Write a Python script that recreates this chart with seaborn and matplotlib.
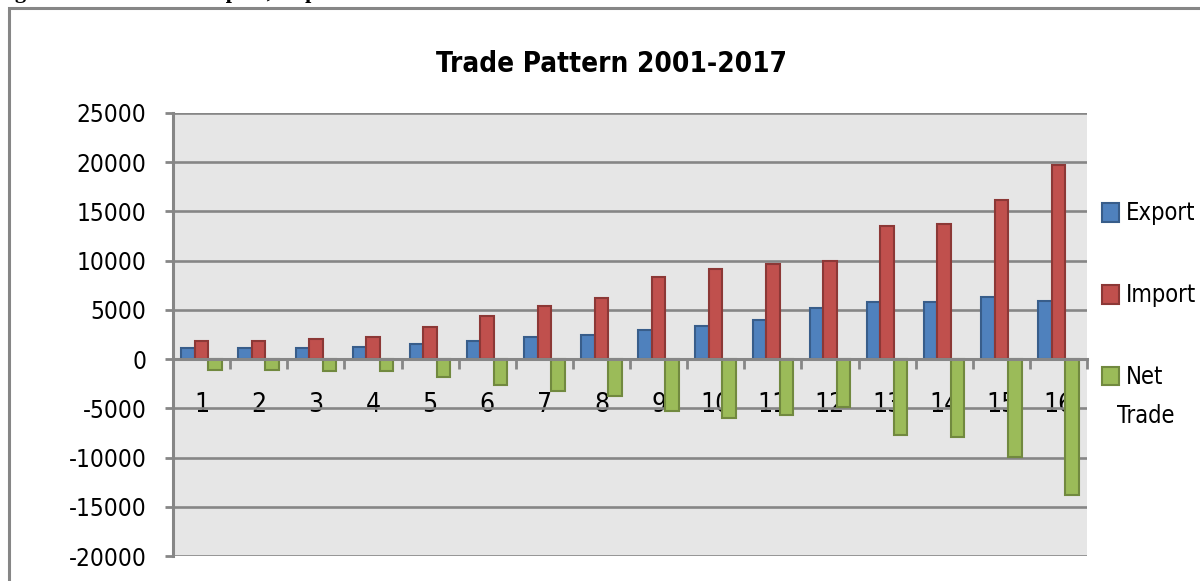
import numpy as np
import pandas as pd
import seaborn as sns
from matplotlib import pyplot as plt
from matplotlib.patches import Rectangle, Patch

# values
years = [str(i) for i in range(1, 17)]
export_vals = [1080, 1080, 1080, 1180, 1490, 1850, 2200, 2500,
               3000, 3400, 4000, 5160, 5840, 5840, 6280, 5940]
import_vals = [1850, 1850, 2000, 2260, 3270, 4420, 5400, 6240,
               8300, 9200, 9700, 10000, 13530, 13700, 16170, 19740]
net_vals = [-1100, -1100, -1200, -1200, -1800, -2600, -3200, -3700,
            -5300, -6000, -5700, -4850, -7700, -7900, -9900, -13800]
series = ["Export", "Import", "Net Trade"]
y_ticks = [-20000, -15000, -10000, -5000, 0, 5000, 10000, 15000, 20000, 25000]

fills = ["#4F81BD", "#C0504D", "#9BBB59"]
edges = ["#385D8A", "#8C3836", "#71893F"]
grid_c = "#868686"

df = pd.DataFrame({
    "period": years * 3,
    "series": np.repeat(series, len(years)),
    "value": export_vals + import_vals + net_vals,
})

sns.set_style("white")
plt.rcParams["font.family"] = ["DejaVu Sans"]
plt.rcParams["font.stretch"] = "condensed"
plt.rcParams["text.color"] = "black"

fig = plt.figure(figsize=(12, 5.81), dpi=100)
ax = fig.add_axes([173 / 1200, 1 - 556 / 581, 914 / 1200, 443 / 581])
ax.set_facecolor("#E6E6E6")

sns.barplot(data=df, x="period", y="value", hue="series", palette=fills,
            saturation=1, width=0.71, ax=ax, legend=False, zorder=3)
for cont, ec in zip(ax.containers, edges):
    for bar in cont:
        bar.set_edgecolor(ec)
        bar.set_linewidth(1.5)

ax.set_xlim(-0.5, 15.5)
ax.set_ylim(-20000, 25000)
ax.set_yticks(y_ticks)
ax.set_yticklabels([str(v) for v in y_ticks])
ax.grid(axis="y", color=grid_c, linewidth=1.9, zorder=1)
ax.set_axisbelow(True)
ax.set_xlabel("")
ax.set_ylabel("")

for s in ["top", "right"]:
    ax.spines[s].set_visible(False)
ax.spines["left"].set_color(grid_c)
ax.spines["left"].set_linewidth(2.2)
ax.spines["bottom"].set_position(("data", 0))
ax.spines["bottom"].set_color(grid_c)
ax.spines["bottom"].set_linewidth(2.2)
ax.spines["bottom"].set_zorder(4)

ax.tick_params(axis="y", direction="out", length=6, width=2, color=grid_c,
               pad=13, labelsize=17.5, labelcolor="black", left=True)
ax.tick_params(axis="x", which="major", length=0, pad=24, labelsize=19,
               labelcolor="black")
ax.set_xticks(np.arange(-0.5, 16, 1), minor=True)
ax.tick_params(axis="x", which="minor", direction="out", length=7, width=2,
               color=grid_c, bottom=True)

fig.text(612 / 1200, 1 - 64 / 581, "Trade Pattern 2001-2017", ha="center",
         va="center", fontsize=20, fontweight="bold")

handles = [Patch(facecolor=f, edgecolor=e, linewidth=1.5) for f, e in zip(fills, edges)]
fig.legend(handles, ["Export", "Import", "Net"], loc="upper left",
           bbox_to_anchor=(1093 / 1200, 1 - 192 / 581), frameon=False,
           fontsize=17, handlelength=0.7, handleheight=0.85,
           handletextpad=0.3, labelspacing=2.45, borderaxespad=0)
fig.text(1117 / 1200, 1 - 416 / 581, "Trade", ha="left", va="center", fontsize=17)

# chart frame and cut-off caption above it
fig.patches.append(Rectangle((9 / 1200, -0.05), 1.2, 1 - 8 / 581 + 0.05,
                             transform=fig.transFigure, fill=False,
                             edgecolor=grid_c, linewidth=2.2, clip_on=False))
fig.text(-0.004, 1 + 2 / 581,
         "Figure 4.1: Trends in Export, Import and Trade Balance 2001-2017",
         ha="left", va="baseline", fontsize=16, fontweight="bold",
         family="Liberation Serif", stretch="normal")

fig.savefig("out.png", dpi=100)
